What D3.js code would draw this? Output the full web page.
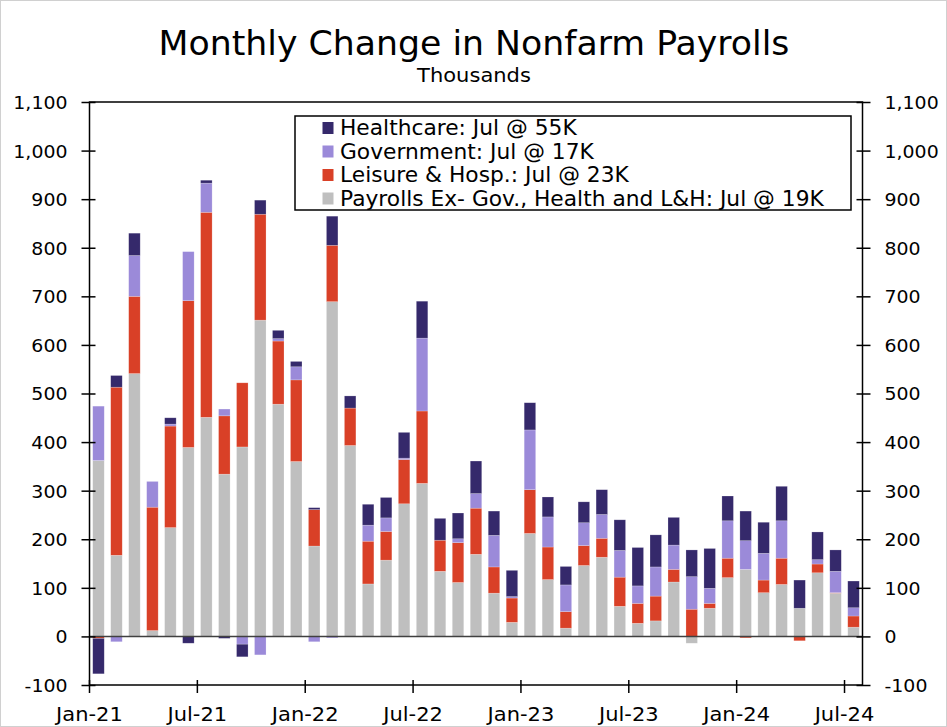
<!DOCTYPE html>
<html>
<head>
<meta charset="utf-8">
<script src="https://cdn.jsdelivr.net/npm/d3@7"></script>
<style>
body { margin: 0; background: #fff; }
text { font-family: "DejaVu Sans", Verdana, sans-serif; fill: #000; }
</style>
</head>
<body>
<div class="chart"></div>
<script>
var months = ["Jan-21","Feb-21","Mar-21","Apr-21","May-21","Jun-21","Jul-21","Aug-21","Sep-21","Oct-21","Nov-21","Dec-21",
	"Jan-22","Feb-22","Mar-22","Apr-22","May-22","Jun-22","Jul-22","Aug-22","Sep-22","Oct-22","Nov-22","Dec-22",
	"Jan-23","Feb-23","Mar-23","Apr-23","May-23","Jun-23","Jul-23","Aug-23","Sep-23","Oct-23","Nov-23","Dec-23",
	"Jan-24","Feb-24","Mar-24","Apr-24","May-24","Jun-24","Jul-24"];

// thousands of jobs
var exOther = [362,167,541,12,224,389,451,334,390,651,478,360,
	186,689,393,108,157,273,315,134,111,169,89,29,
	212,117,17,146,163,62,27,32,112,-14,58,121,
	138,90,107,58,131,89,19];
var leisure = [-4,346,159,254,209,302,422,120,132,218,130,168,
	75,116,77,88,59,91,149,64,82,95,54,50,
	90,67,34,41,39,60,41,51,26,56,10,40,
	-3,26,54,-9,18,1,23];
var government = [112,-11,84,53,4,101,60,14,-16,-38,5,27,
	-11,-3,0,33,28,3,150,0,8,30,65,3,
	123,62,55,47,49,55,36,60,50,67,31,77,
	59,55,77,0,9,44,17];
var healthcare = [-73,24,46,0,13,-14,6,-4,-26,29,17,11,
	4,60,25,43,42,53,76,45,53,67,50,54,
	56,41,38,43,51,63,79,66,57,55,82,51,
	61,64,71,58,57,44,55];

var tickMonths = ["Jan-21","Jul-21","Jan-22","Jul-22","Jan-23","Jul-23","Jan-24","Jul-24"];
var yTicks = [-100,0,100,200,300,400,500,600,700,800,900,1000,1100];

var keys = ["ex","lh","gov","hc"];
var colors = {ex: "#bfbfbf", lh: "#d94027", gov: "#9b8ad9", hc: "#35296b"};
var legendItems = [
	{key: "hc", label: "Healthcare: Jul @ 55K"},
	{key: "gov", label: "Government: Jul @ 17K"},
	{key: "lh", label: "Leisure & Hosp.: Jul @ 23K"},
	{key: "ex", label: "Payrolls Ex- Gov., Health and L&H: Jul @ 19K"}
];

var rows = months.map(function(m, i){
	return {month: m, ex: exOther[i], lh: leisure[i], gov: government[i], hc: healthcare[i]};
});

var W = 947, H = 727;
var pL = 89.5, pR = 862.5, pT = 102, pB = 685;

var svg = d3.select(".chart").append("svg").attr("width", W).attr("height", H);
svg.append("rect").attr("x", 0.5).attr("y", 0.5).attr("width", W - 1).attr("height", H - 1)
	.attr("fill", "#fff").attr("stroke", "#d0d0d0");

var pad = 0.36;
var x = d3.scaleBand().domain(months).range([pL, pR]).paddingInner(pad).paddingOuter(pad / 2);
var y = d3.scaleLinear().domain([-100, 1100]).range([pB, pT]);
var tickX = function(m){ return x(m) - x.step() * pad / 2; };
var fmt = function(v){ return d3.format(",")(v).replace("\u2212", "-"); };

var series = d3.stack().keys(keys).offset(d3.stackOffsetDiverging)(rows);

svg.append("g").selectAll("g").data(series).join("g")
	.attr("fill", function(d){ return colors[d.key]; })
	.selectAll("rect").data(function(d){ return d; }).join("rect")
	.attr("x", function(d){ return x(d.data.month); })
	.attr("width", x.bandwidth())
	.attr("y", function(d){ return y(Math.max(d[0], d[1])); })
	.attr("height", function(d){ return Math.abs(y(d[0]) - y(d[1])); })
	.attr("stroke", "#fff").attr("stroke-opacity", 0.35).attr("stroke-width", 0.6);

// zero line
svg.append("line").attr("x1", pL).attr("x2", pR).attr("y1", y(0)).attr("y2", y(0))
	.attr("stroke", "#404040").attr("stroke-width", 1.5);

// frame
svg.append("rect").attr("x", pL).attr("y", pT).attr("width", pR - pL).attr("height", pB - pT)
	.attr("fill", "none").attr("stroke", "#000").attr("stroke-width", 1.5);

// y axes, both sides
var yl = svg.append("g").attr("transform", "translate(" + pL + ",0)")
	.call(d3.axisLeft(y).tickValues(yTicks).tickFormat(fmt).tickSize(8).tickPadding(14));
var yr = svg.append("g").attr("transform", "translate(" + pR + ",0)")
	.call(d3.axisRight(y).tickValues(yTicks).tickFormat(fmt).tickSize(8).tickPadding(14));
yl.selectAll(".tick line").attr("x1", 6);
yr.selectAll(".tick line").attr("x1", -6);
[yl, yr].forEach(function(g){
	g.select(".domain").remove();
	g.selectAll(".tick line").attr("stroke", "#000").attr("stroke-width", 1.5);
	g.selectAll("text").attr("font-size", 18).attr("font-family", null).attr("dy", "0.36em");
});

// x axis, ticks sit between months
var xt = svg.append("g");
xt.selectAll("line").data(tickMonths).join("line")
	.attr("x1", tickX).attr("x2", tickX)
	.attr("y1", pB - 5).attr("y2", pB + 8)
	.attr("stroke", "#000").attr("stroke-width", 1.5);
xt.selectAll("text").data(tickMonths).join("text")
	.attr("x", tickX).attr("y", 721).attr("text-anchor", "middle").attr("font-size", 20)
	.text(function(d){ return d; });

// titles
var title = svg.append("text").attr("x", 474).attr("y", 55).attr("text-anchor", "middle")
	.attr("font-size", 33).text("Monthly Change in Nonfarm Payrolls");
svg.append("text").attr("x", 474).attr("y", 82.5).attr("text-anchor", "middle")
	.attr("font-size", 20).text("Thousands");

// legend
var lg = svg.append("g");
lg.append("rect").attr("x", 295).attr("y", 116).attr("width", 556).attr("height", 94)
	.attr("fill", "#fff").attr("stroke", "#000").attr("stroke-width", 1.5);
var li = lg.selectAll("g.item").data(legendItems).join("g").attr("class", "item")
	.attr("transform", function(d, i){ return "translate(322.5," + (128 + i * 23.5) + ")"; });
li.append("rect").attr("x", 0).attr("y", -6).attr("width", 11).attr("height", 12)
	.attr("fill", function(d){ return colors[d.key]; });
li.append("text").attr("x", 17.5).attr("dy", "0.36em").attr("font-size", 20.7)
	.text(function(d){ return d.label; });

// the source picture is stretched sideways; widen the glyphs to match
var sx = 631 / title.node().getComputedTextLength();
svg.selectAll("text").each(function(){
	var t = d3.select(this);
	var tx = +t.attr("x") || 0, ty = +t.attr("y") || 0;
	var prev = t.attr("transform") || "";
	t.attr("transform", prev + " translate(" + tx + "," + ty + ") scale(" + sx + ",1) translate(" + (-tx) + "," + (-ty) + ")");
});
</script>
</body>
</html>
